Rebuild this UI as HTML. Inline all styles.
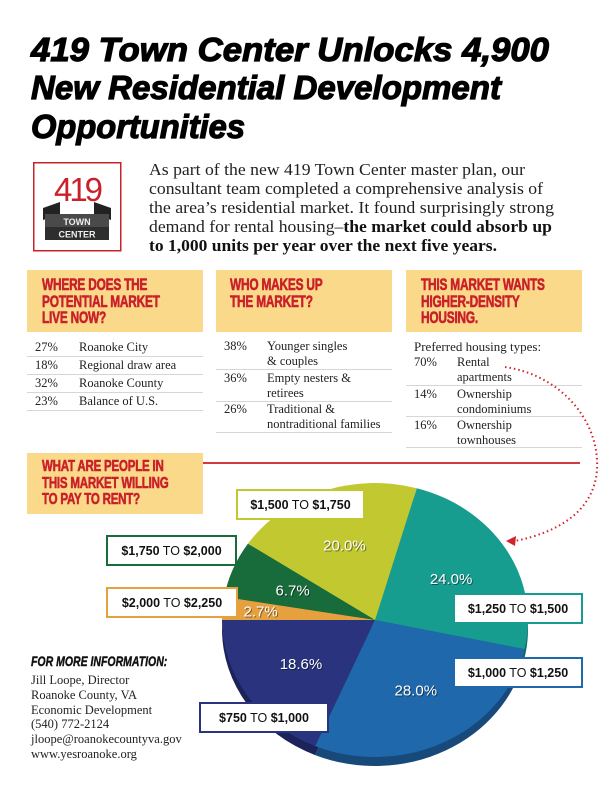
<!DOCTYPE html>
<html><head><meta charset="utf-8"><style>
body{margin:0;background:#fff;}
#page{position:relative;width:612px;height:792px;overflow:hidden;background:#fff;font-family:"Liberation Serif",serif;color:#222;}
.abs{position:absolute;}
.ybox{position:absolute;background:#fbd98a;}
.hdr{position:absolute;font-family:"Liberation Sans",sans-serif;font-weight:bold;color:#c9202b;font-size:16.5px;line-height:16.7px;transform:scaleX(.72);transform-origin:0 0;white-space:nowrap;letter-spacing:-0.3px;-webkit-text-stroke:0.6px #c9202b}
.row{position:absolute;font-size:12.5px;line-height:15px;color:#222;}
.row .p{position:absolute;left:0;top:0;}
.row .t{position:absolute;top:0;}
.sep{position:absolute;height:1px;background:#d6d6d6;}
</style></head><body>
<div id="page">

<svg class="abs" style="left:0;top:0" width="612" height="150">
 <g font-family="Liberation Sans, sans-serif" font-weight="bold" font-style="italic" fill="#000" stroke="#000" stroke-width="1.2" font-size="33">
  <text x="31" y="61" textLength="518" lengthAdjust="spacingAndGlyphs">419 Town Center Unlocks 4,900</text>
  <text x="31" y="99" textLength="470" lengthAdjust="spacingAndGlyphs">New Residential Development</text>
  <text x="31" y="138" textLength="214" lengthAdjust="spacingAndGlyphs">Opportunities</text>
 </g>
</svg>

<svg class="abs" style="left:33px;top:162px" width="89" height="90">
 <rect x="0.75" y="0.75" width="87" height="88" fill="#fff" stroke="#c9202b" stroke-width="1.5"/>
 <text x="44" y="39" text-anchor="middle" font-family="Liberation Sans, sans-serif" font-size="33" fill="#c9202b" letter-spacing="-3">419</text>
 <polygon points="10,46 27,40 27,52 10,58" fill="#222"/>
 <polygon points="61,40 78,46 78,58 61,52" fill="#222"/>
 <polygon points="12,52 76,52 76,78 12,78" fill="#4a4a4a"/>
 <polygon points="12,65 76,65 76,78 12,78" fill="#2e2e2e"/>
 <text x="44" y="63" text-anchor="middle" font-family="Liberation Sans, sans-serif" font-weight="bold" font-size="9" fill="#eee">TOWN</text>
 <text x="44" y="75.5" text-anchor="middle" font-family="Liberation Sans, sans-serif" font-weight="bold" font-size="9" fill="#eee">CENTER</text>
</svg>

<svg class="abs" style="left:0;top:150px" width="612" height="110">
 <g font-family="Liberation Serif, serif" font-size="16.5" fill="#222">
  <text x="149" y="25" textLength="376" lengthAdjust="spacingAndGlyphs">As part of the new 419 Town Center master plan, our</text>
  <text x="149" y="44" textLength="394" lengthAdjust="spacingAndGlyphs">consultant team completed a comprehensive analysis of</text>
  <text x="149" y="63" textLength="405" lengthAdjust="spacingAndGlyphs">the area’s residential market. It found surprisingly strong</text>
  <text x="149" y="82" textLength="403" lengthAdjust="spacingAndGlyphs">demand for rental housing–<tspan font-weight="bold" fill="#111">the market could absorb up</tspan></text>
  <text x="149" y="101" textLength="348" lengthAdjust="spacingAndGlyphs" font-weight="bold" fill="#111">to 1,000 units per year over the next five years.</text>
 </g>
</svg>

<div class="ybox" style="left:27px;top:270px;width:176px;height:62px"></div>
<div class="hdr" style="left:42px;top:277px">WHERE DOES THE<br>POTENTIAL MARKET<br>LIVE NOW?</div>
<div class="ybox" style="left:216px;top:270px;width:176px;height:62px"></div>
<div class="hdr" style="left:230px;top:277px">WHO MAKES UP<br>THE MARKET?</div>
<div class="ybox" style="left:406px;top:270px;width:176px;height:62px"></div>
<div class="hdr" style="left:421px;top:277px">THIS MARKET WANTS<br>HIGHER-DENSITY<br>HOUSING.</div>

<!-- column 1 -->
<div class="row" style="left:35px;top:340px;width:170px"><span class="p">27%</span><span class="t" style="left:44px">Roanoke City</span></div>
<div class="sep" style="left:27px;top:356px;width:176px"></div>
<div class="row" style="left:35px;top:358px;width:170px"><span class="p">18%</span><span class="t" style="left:44px">Regional draw area</span></div>
<div class="sep" style="left:27px;top:374px;width:176px"></div>
<div class="row" style="left:35px;top:376px;width:170px"><span class="p">32%</span><span class="t" style="left:44px">Roanoke County</span></div>
<div class="sep" style="left:27px;top:392px;width:176px"></div>
<div class="row" style="left:35px;top:394px;width:170px"><span class="p">23%</span><span class="t" style="left:44px">Balance of U.S.</span></div>
<div class="sep" style="left:27px;top:410px;width:176px"></div>

<!-- column 2 -->
<div class="row" style="left:224px;top:339px;width:170px"><span class="p">38%</span><span class="t" style="left:43px">Younger singles<br>&amp; couples</span></div>
<div class="sep" style="left:216px;top:369px;width:176px"></div>
<div class="row" style="left:224px;top:371px;width:170px"><span class="p">36%</span><span class="t" style="left:43px">Empty nesters &amp;<br>retirees</span></div>
<div class="sep" style="left:216px;top:401px;width:176px"></div>
<div class="row" style="left:224px;top:402px;width:170px"><span class="p">26%</span><span class="t" style="left:43px">Traditional &amp;<br>nontraditional families</span></div>
<div class="sep" style="left:216px;top:432px;width:176px"></div>

<!-- column 3 -->
<div class="row" style="left:414px;top:339px;width:170px;font-size:13px">Preferred housing types:</div>
<div class="row" style="left:414px;top:355px;width:170px"><span class="p">70%</span><span class="t" style="left:43px">Rental<br>apartments</span></div>
<div class="sep" style="left:406px;top:385px;width:176px"></div>
<div class="row" style="left:414px;top:387px;width:170px"><span class="p">14%</span><span class="t" style="left:43px">Ownership<br>condominiums</span></div>
<div class="sep" style="left:406px;top:416px;width:176px"></div>
<div class="row" style="left:414px;top:418px;width:170px"><span class="p">16%</span><span class="t" style="left:43px">Ownership<br>townhouses</span></div>
<div class="sep" style="left:406px;top:447px;width:176px"></div>

<div class="ybox" style="left:27px;top:453px;width:176px;height:61px"></div>
<div class="hdr" style="left:42px;top:459px;line-height:16.5px;font-size:16px">WHAT ARE PEOPLE IN<br>THIS MARKET WILLING<br>TO PAY TO RENT?</div>
<div class="abs" style="left:203px;top:462px;width:377px;height:1.5px;background:#d23a3f"></div>

<div class="abs" style="left:31px;top:653px;font-family:'Liberation Sans',sans-serif;font-weight:bold;font-style:italic;font-size:14px;transform:scaleX(.75);transform-origin:0 0;color:#111;white-space:nowrap;-webkit-text-stroke:0.4px #111">FOR MORE INFORMATION:</div>
<div class="abs" style="left:31px;top:673px;font-size:12.5px;line-height:14.8px;color:#222">Jill Loope, Director<br>Roanoke County, VA<br>Economic Development<br>(540) 772-2124<br>jloope@roanokecountyva.gov<br>www.yesroanoke.org</div>

<svg id="chart" class="abs" style="left:0;top:0" width="612" height="792">
 <path d="M505,367 C560,375 600,420 597,470 C594,510 560,532 515,541" fill="none" stroke="#d0242b" stroke-width="2" stroke-dasharray="1.5,3"/>
 <polygon points="506,541 516,536 515,546" fill="#d0242b"/>
 <g id="pie"></g>
 <g id="labels"></g>
</svg>

<script>
const categories = ["$750 TO $1,000","$1,000 TO $1,250","$1,250 TO $1,500","$1,500 TO $1,750","$1,750 TO $2,000","$2,000 TO $2,250"];
const values = [18.6, 28.0, 24.0, 20.0, 6.7, 2.7];
const pctLabels = ["18.6%","28.0%","24.0%","20.0%","6.7%","2.7%"];
const colors = ["#29337e","#1f68ab","#179c90","#c2c930","#186b3b","#e6a13e"];
const darks = ["#1b2358","#17497a","#0f6d65","#8d9222","#0f4a28","#a8722b"];
const boxPos = [[199,702,130],[453,657,130],[453,593,130],[236,489,129],[106,535,131],[106,587,132]];

const NS="http://www.w3.org/2000/svg";
const cx=375, cy=620, rx=153, ry=137, depth=9;
const total = values.reduce((a,b)=>a+b,0);
function ang(v){return Math.PI - v/total*2*Math.PI;}
function pt(a,dy){return [cx+rx*Math.cos(a), cy+dy+ry*Math.sin(a)];}
function slicePath(a0,a1,dy){
  const p0=pt(a0,dy), p1=pt(a1,dy);
  const large = Math.abs(a0-a1)>Math.PI?1:0;
  return `M${cx},${cy+dy} L${p0[0]},${p0[1]} A${rx},${ry} 0 ${large} 0 ${p1[0]},${p1[1]} Z`;
}
const pie=document.getElementById('pie'), lab=document.getElementById('labels');
let cum=0; const angles=[];
values.forEach(v=>{angles.push([ang(cum),ang(cum+v)]);cum+=v;});
values.forEach((v,i)=>{
  const p=document.createElementNS(NS,'path');
  p.setAttribute('d',slicePath(angles[i][0],angles[i][1],depth));
  p.setAttribute('fill',darks[i]);
  
  
  pie.appendChild(p);
});
values.forEach((v,i)=>{
  const p=document.createElementNS(NS,'path');
  p.setAttribute('d',slicePath(angles[i][0],angles[i][1],0));
  p.setAttribute('fill',colors[i]);
  
  
  pie.appendChild(p);
  const mid=(angles[i][0]+angles[i][1])/2;
  const f = values[i]<5?0.75:0.58;
  const x=cx+rx*f*Math.cos(mid), y=cy+ry*f*Math.sin(mid)+5;
  const sh=document.createElementNS(NS,'text');
  sh.setAttribute('x',x+1);
  sh.setAttribute('y',y+1);
  sh.setAttribute('text-anchor','middle');
  sh.setAttribute('font-family','Liberation Sans, sans-serif');
  sh.setAttribute('font-size','15');
  sh.setAttribute('fill','rgba(0,0,0,0.45)');
  sh.textContent=pctLabels[i];
  
  
  lab.appendChild(sh);
  const t=document.createElementNS(NS,'text');
  t.setAttribute('x',x);
  t.setAttribute('y',y);
  t.setAttribute('text-anchor','middle');
  t.setAttribute('font-family','Liberation Sans, sans-serif');
  t.setAttribute('font-size','15');
  t.setAttribute('fill','#fff');
  t.textContent=pctLabels[i];
  
  
  lab.appendChild(t);
});
categories.forEach((c,i)=>{
  const [x,y,w]=boxPos[i];
  const g=document.createElementNS(NS,'g');
  
  
  const r=document.createElementNS(NS,'rect');
  r.setAttribute('x',x+1);r.setAttribute('y',y+1);r.setAttribute('width',w-2);r.setAttribute('height',29);
  r.setAttribute('fill','#fff');r.setAttribute('stroke',colors[i]);r.setAttribute('stroke-width','2');
  g.appendChild(r);
  const parts=c.split(' TO ');
  const t=document.createElementNS(NS,'text');
  t.setAttribute('x',x+w/2);t.setAttribute('y',y+20);t.setAttribute('text-anchor','middle');
  t.setAttribute('font-family','Liberation Sans, sans-serif');t.setAttribute('font-size','12.5');t.setAttribute('fill','#111');
  t.innerHTML=`<tspan font-weight="bold">${parts[0]}</tspan> TO <tspan font-weight="bold">${parts[1]}</tspan>`;
  g.appendChild(t);
  lab.appendChild(g);
});
</script>
</div>
</body></html>
